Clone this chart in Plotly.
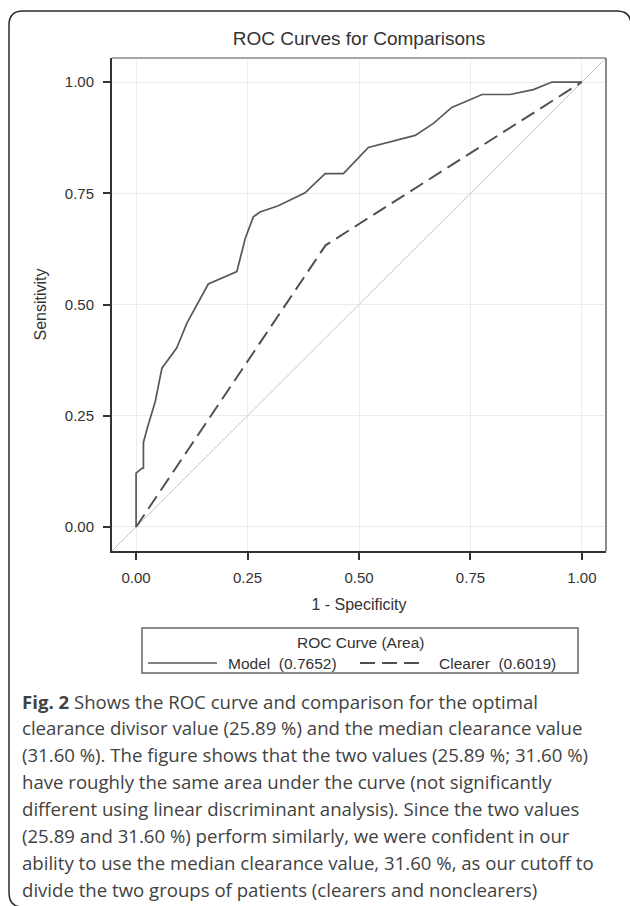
import plotly.graph_objects as go

# ---------------- data ----------------
model_fpr = [0.0, 0.0, 0.013, 0.0165, 0.0165, 0.025, 0.043, 0.058, 0.091, 0.114, 0.162, 0.226,
             0.245, 0.263, 0.278, 0.319, 0.379, 0.424, 0.465, 0.521, 0.626, 0.667, 0.708,
             0.776, 0.839, 0.891, 0.933, 1.0]
model_tpr = [0.0, 0.121, 0.132, 0.132, 0.190, 0.222, 0.282, 0.357, 0.402, 0.458, 0.546, 0.574,
             0.649, 0.697, 0.708, 0.722, 0.751, 0.794, 0.794, 0.853, 0.880, 0.907, 0.943,
             0.972, 0.972, 0.983, 1.0, 1.0]
clearer_fpr = [0.0, 0.425, 1.0]
clearer_tpr = [0.0, 0.633, 1.0]
series_names = ["Model", "Clearer"]
series_auc = ["0.7652", "0.6019"]
tick_vals = [0.0, 0.25, 0.50, 0.75, 1.00]
tick_text = ["0.00", "0.25", "0.50", "0.75", "1.00"]
axis_range = [-0.054, 1.054]

title_text = "ROC Curves for Comparisons"
x_title = "1 - Specificity"
y_title = "Sensitivity"
legend_title = "ROC Curve (Area)"
caption_lines = [
    "<b>Fig. 2</b> Shows the ROC curve and comparison for the optimal",
    "clearance divisor value (25.89 %) and the median clearance value",
    "(31.60 %). The figure shows that the two values (25.89 %; 31.60 %)",
    "have roughly the same area under the curve (not significantly",
    "different using linear discriminant analysis). Since the two values",
    "(25.89 and 31.60 %) perform similarly, we were confident in our",
    "ability to use the median clearance value, 31.60 %, as our cutoff to",
    "divide the two groups of patients (clearers and nonclearers)",
]

# ---------------- layout geometry (pixels) ----------------
W, H = 630, 906
PL, PR, PT, PB = 112, 606, 58, 551


def px(x):
    return (x - PL) / (PR - PL)


def py(y):
    return (PB - y) / (PB - PT)


AX_FONT = "Arial, Liberation Sans, sans-serif"
DARK = "#333333"

fig = go.Figure()

# reference diagonal
fig.add_trace(go.Scatter(x=axis_range, y=axis_range, mode="lines",
                         line=dict(color="#c4c4c4", width=1), showlegend=False,
                         hoverinfo="skip"))
fig.add_trace(go.Scatter(x=clearer_fpr, y=clearer_tpr, mode="lines", name=series_names[1],
                         line=dict(color="#505050", width=2, dash="15px,7px"),
                         showlegend=False))
fig.add_trace(go.Scatter(x=model_fpr, y=model_tpr, mode="lines", name=series_names[0],
                         line=dict(color="#585858", width=1.7), showlegend=False))

axis_common = dict(
    range=axis_range, tickvals=tick_vals, ticktext=tick_text,
    showgrid=True, gridcolor="#ececec", gridwidth=1, zeroline=False,
    showline=True, linecolor=DARK, linewidth=2, mirror=False,
    ticks="outside", ticklen=7, tickwidth=1.5, tickcolor=DARK,
    tickfont=dict(family=AX_FONT, size=15, color=DARK),
    title_font=dict(family=AX_FONT, size=16, color=DARK),
)

fig.update_layout(
    width=W, height=H,
    margin=dict(l=PL, r=W - PR, t=PT, b=H - PB, pad=0),
    paper_bgcolor="white", plot_bgcolor="white",
    showlegend=False,
    title=dict(text=title_text, x=px(359), xref="paper", xanchor="center",
               y=1 - 38 / H, yref="container", yanchor="middle",
               font=dict(family=AX_FONT, size=19, color=DARK)),
    xaxis=dict(**axis_common, title=dict(text=x_title, standoff=14), ticklabelstandoff=5),
    yaxis=dict(**axis_common, title=dict(text=y_title, standoff=14), ticklabelstandoff=6),
)

shapes = []
# top and right frame (lighter)
shapes.append(dict(type="line", xref="paper", yref="paper", x0=0, x1=1, y0=1, y1=1,
                   line=dict(color="#8a8a8a", width=1.5)))
shapes.append(dict(type="line", xref="paper", yref="paper", x0=1, x1=1, y0=0, y1=1,
                   line=dict(color="#8a8a8a", width=2)))

# outer rounded border of the figure panel
path = (f"M {px(9)},{py(893)} L {px(9)},{py(25)} Q {px(9)},{py(11)} {px(23)},{py(11)} "
        f"L {px(617)},{py(11)} Q {px(631)},{py(11)} {px(631)},{py(25)} L {px(631)},{py(907)}")
shapes.append(dict(type="path", xref="paper", yref="paper", path=path,
                   line=dict(color="#2a2a2a", width=1.5)))
path2 = f"M {px(9)},{py(893)} Q {px(9)},{py(907)} {px(23)},{py(907)}"
shapes.append(dict(type="path", xref="paper", yref="paper", path=path2,
                   line=dict(color="#2a2a2a", width=1.5)))

# legend box
shapes.append(dict(type="rect", xref="paper", yref="paper", x0=px(142), x1=px(578),
                   y0=py(673), y1=py(628), line=dict(color="#666666", width=1.5)))
# legend samples
shapes.append(dict(type="line", xref="paper", yref="paper", x0=px(148), x1=px(217),
                   y0=py(663), y1=py(663), line=dict(color="#585858", width=1.7)))
shapes.append(dict(type="line", xref="paper", yref="paper", x0=px(360), x1=px(420),
                   y0=py(663), y1=py(663), line=dict(color="#505050", width=2, dash="15px,7px")))

annotations = []
annotations.append(dict(text=legend_title, xref="paper", yref="paper", x=px(360), y=py(642),
                        xanchor="center", yanchor="middle", showarrow=False,
                        font=dict(family=AX_FONT, size=15.5, color=DARK)))
annotations.append(dict(text=f"{series_names[0]}  ({series_auc[0]})", xref="paper", yref="paper",
                        x=px(226), y=py(663), xanchor="left", yanchor="middle", showarrow=False,
                        font=dict(family=AX_FONT, size=15.5, color=DARK)))
annotations.append(dict(text=f"{series_names[1]}  ({series_auc[1]})", xref="paper", yref="paper",
                        x=px(437), y=py(663), xanchor="left", yanchor="middle", showarrow=False,
                        font=dict(family=AX_FONT, size=15.5, color=DARK)))

cap_y0, cap_dy = 701, 26.9
for i, line in enumerate(caption_lines):
    annotations.append(dict(text=line, xref="paper", yref="paper", x=px(20),
                            y=py(cap_y0 + i * cap_dy), xanchor="left", yanchor="middle",
                            showarrow=False,
                            font=dict(family="Open Sans, sans-serif", size=18.6, color="#424242")))

fig.update_layout(shapes=shapes, annotations=annotations)

fig.write_html("out.html", config={"displayModeBar": False},
               post_script="document.body.style.margin='0';document.body.style.overflow='hidden';")
